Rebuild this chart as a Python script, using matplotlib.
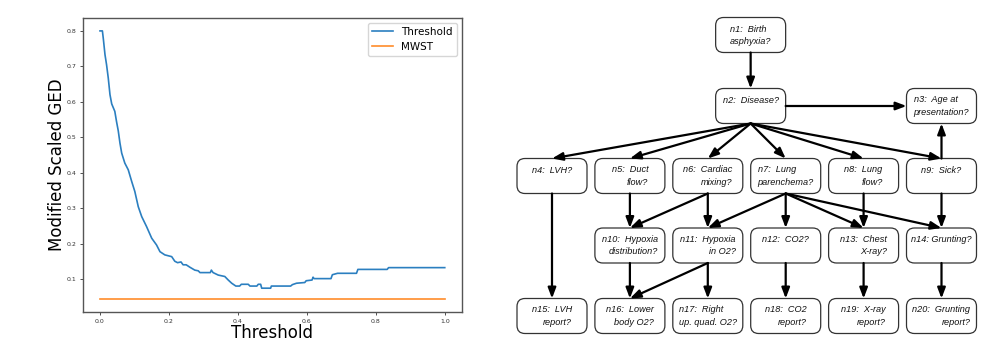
import matplotlib
matplotlib.use("Agg")
import matplotlib.pyplot as plt
from matplotlib.patches import FancyBboxPatch

# ---- left panel data: modified scaled GED vs threshold ----
threshold_x = [
    0.000, 0.007, 0.010, 0.0145, 0.019, 0.024, 0.029, 0.034, 0.043, 0.048,
    0.053, 0.058, 0.063, 0.072, 0.082, 0.092, 0.101, 0.111, 0.121, 0.135,
    0.150, 0.164, 0.174, 0.188, 0.208, 0.217, 0.225, 0.235, 0.241, 0.250,
    0.261, 0.275, 0.285, 0.290, 0.310, 0.320, 0.323, 0.328, 0.343, 0.362,
    0.372, 0.382, 0.394, 0.405, 0.410, 0.430, 0.435, 0.455, 0.459, 0.466,
    0.469, 0.495, 0.497, 0.553, 0.558, 0.570, 0.594, 0.598, 0.615, 0.618,
    0.621, 0.670, 0.674, 0.689, 0.744, 0.748, 0.833, 0.837, 1.000,
]
threshold_ged = [
    0.800, 0.800, 0.775, 0.733, 0.705, 0.667, 0.620, 0.594, 0.573, 0.544,
    0.518, 0.483, 0.455, 0.427, 0.408, 0.375, 0.347, 0.304, 0.276, 0.248,
    0.215, 0.196, 0.177, 0.168, 0.163, 0.150, 0.146, 0.148, 0.140, 0.140,
    0.133, 0.125, 0.123, 0.118, 0.118, 0.118, 0.125, 0.118, 0.111, 0.107,
    0.097, 0.088, 0.080, 0.080, 0.085, 0.085, 0.080, 0.080, 0.085, 0.085,
    0.074, 0.074, 0.080, 0.080, 0.084, 0.088, 0.090, 0.095, 0.097, 0.105,
    0.101, 0.101, 0.112, 0.116, 0.116, 0.127, 0.127, 0.132, 0.132,
]
mwst_x = [0.0, 1.0]
mwst_ged = [0.0435, 0.0435]

# ---- right panel data: network nodes and edges ----
node_ids = ["n1", "n2", "n3", "n4", "n5", "n6", "n7", "n8", "n9", "n10",
            "n11", "n12", "n13", "n14", "n15", "n16", "n17", "n18", "n19", "n20"]
node_line1 = ["n1:  Birth", "n2:  Disease?", "n3:  Age at", "n4:  LVH?",
              "n5:  Duct", "n6:  Cardiac", "n7:  Lung", "n8:  Lung",
              "n9:  Sick?", "n10:  Hypoxia", "n11:  Hypoxia", "n12:  CO2?",
              "n13:  Chest", "n14: Grunting?", "n15:  LVH", "n16:  Lower",
              "n17:  Right", "n18:  CO2", "n19:  X-ray", "n20:  Grunting"]
node_line2 = ["asphyxia?", "", "presentation?", "", "flow?", "mixing?",
              "parenchema?", "flow?", "", "distribution?", "in O2?", "",
              "X-ray?", "", "report?", "body O2?", "up. quad. O2?", "report?",
              "report?", "report?"]
edges = [
    ("n1", "n2"), ("n2", "n3"), ("n2", "n4"), ("n2", "n5"), ("n2", "n6"),
    ("n2", "n7"), ("n2", "n8"), ("n2", "n9"), ("n9", "n3"), ("n4", "n15"),
    ("n5", "n10"), ("n6", "n10"), ("n6", "n11"), ("n7", "n11"), ("n7", "n12"),
    ("n7", "n13"), ("n7", "n14"), ("n8", "n13"), ("n9", "n14"), ("n10", "n16"),
    ("n11", "n16"), ("n11", "n17"), ("n12", "n18"), ("n13", "n19"), ("n14", "n20"),
]

# layout of the diagram (grid column, row) -> pixel positions
node_col = [2.55, 2.55, 5, 0, 1, 2, 3, 4, 5, 1, 2, 3, 4, 5, 0, 1, 2, 3, 4, 5]
node_row = [0, 1, 1, 2, 2, 2, 2, 2, 2, 3, 3, 3, 3, 3, 4, 4, 4, 4, 4, 4]
col_x0, col_dx = 552, 77.9
row_y = [35, 106, 176, 245.5, 316]
box_w, box_h = 70, 35

W, H = 998, 341
fig = plt.figure(figsize=(W / 100, H / 100), dpi=100)

# diagram axes in pixel coordinates
dax = fig.add_axes([0, 0, 1, 1])
dax.set_xlim(0, W)
dax.set_ylim(H, 0)
dax.axis("off")
dax.patch.set_alpha(0)

centers = {}
for i, nid in enumerate(node_ids):
    cx = col_x0 + col_dx * node_col[i]
    cy = row_y[node_row[i]]
    centers[nid] = (cx, cy)
    dax.add_patch(FancyBboxPatch((cx - box_w / 2, cy - box_h / 2), box_w, box_h,
                                 boxstyle="round,pad=0,rounding_size=8",
                                 fc="white", ec="#333333", lw=0.9))

font = dict(family="Liberation Sans", style="italic", size=6.6, color="#111111")
pairs = []
for i, nid in enumerate(node_ids):
    cx, cy = centers[nid]
    top = cy - box_h / 2
    if node_line2[i]:
        t1 = dax.text(cx, top + 11.5, node_line1[i], ha="left", va="center", **font)
        t2 = dax.text(cx, top + 24, node_line2[i], ha="right", va="center", **font)
        pairs.append((cx, t1, t2))
    else:
        dax.text(cx, top + 12, node_line1[i], ha="center", va="center", **font)

# line 1 left-aligned and line 2 right-aligned inside a centred block
fig.canvas.draw()
renderer = fig.canvas.get_renderer()
for cx, t1, t2 in pairs:
    w = max(t1.get_window_extent(renderer).width, t2.get_window_extent(renderer).width)
    t1.set_x(cx - w / 2)
    t2.set_x(cx + w / 2)

for a, b in edges:
    ax_, ay_ = centers[a]
    bx_, by_ = centers[b]
    if ay_ == by_:
        start, end = (ax_ + box_w / 2, ay_), (bx_ - box_w / 2, by_)
    elif by_ < ay_:
        start, end = (ax_, ay_ - box_h / 2), (bx_, by_ + box_h / 2)
    else:
        start, end = (ax_, ay_ + box_h / 2), (bx_, by_ - box_h / 2)
    dax.annotate("", xy=end, xytext=start,
                 arrowprops=dict(arrowstyle="-|>,head_length=0.45,head_width=0.17",
                                 lw=1.6, color="black", mutation_scale=14,
                                 shrinkA=0, shrinkB=0))

# ---- line plot ----
left, right, top, bottom = 82.75, 462, 17.5, 312.4
ax = fig.add_axes([left / W, (H - bottom) / H, (right - left) / W, (bottom - top) / H])
ax.plot(threshold_x, threshold_ged, color="#2b7fc0", lw=1.2, label="Threshold")
ax.plot(mwst_x, mwst_ged, color="#ff8c2a", lw=1.2, label="MWST")
ax.set_xticks([0.0, 0.2, 0.4, 0.6, 0.8, 1.0])
ax.set_yticks([0.1, 0.2, 0.3, 0.4, 0.5, 0.6, 0.7, 0.8])
ax.tick_params(labelsize=4.5, length=2.5, width=0.6, pad=2, colors="#333333")
for s in ax.spines.values():
    s.set_color("#555555")
    s.set_linewidth(1.0)
ax.set_xlabel("Threshold", fontsize=12)
ax.set_ylabel("Modified Scaled GED", fontsize=12)
ax.xaxis.set_label_coords(0.5, -0.038)
ax.yaxis.set_label_coords(-0.045, 0.5)
ax.legend(loc="upper right", fontsize=7.5)

fig.savefig("out.png", dpi=100)
